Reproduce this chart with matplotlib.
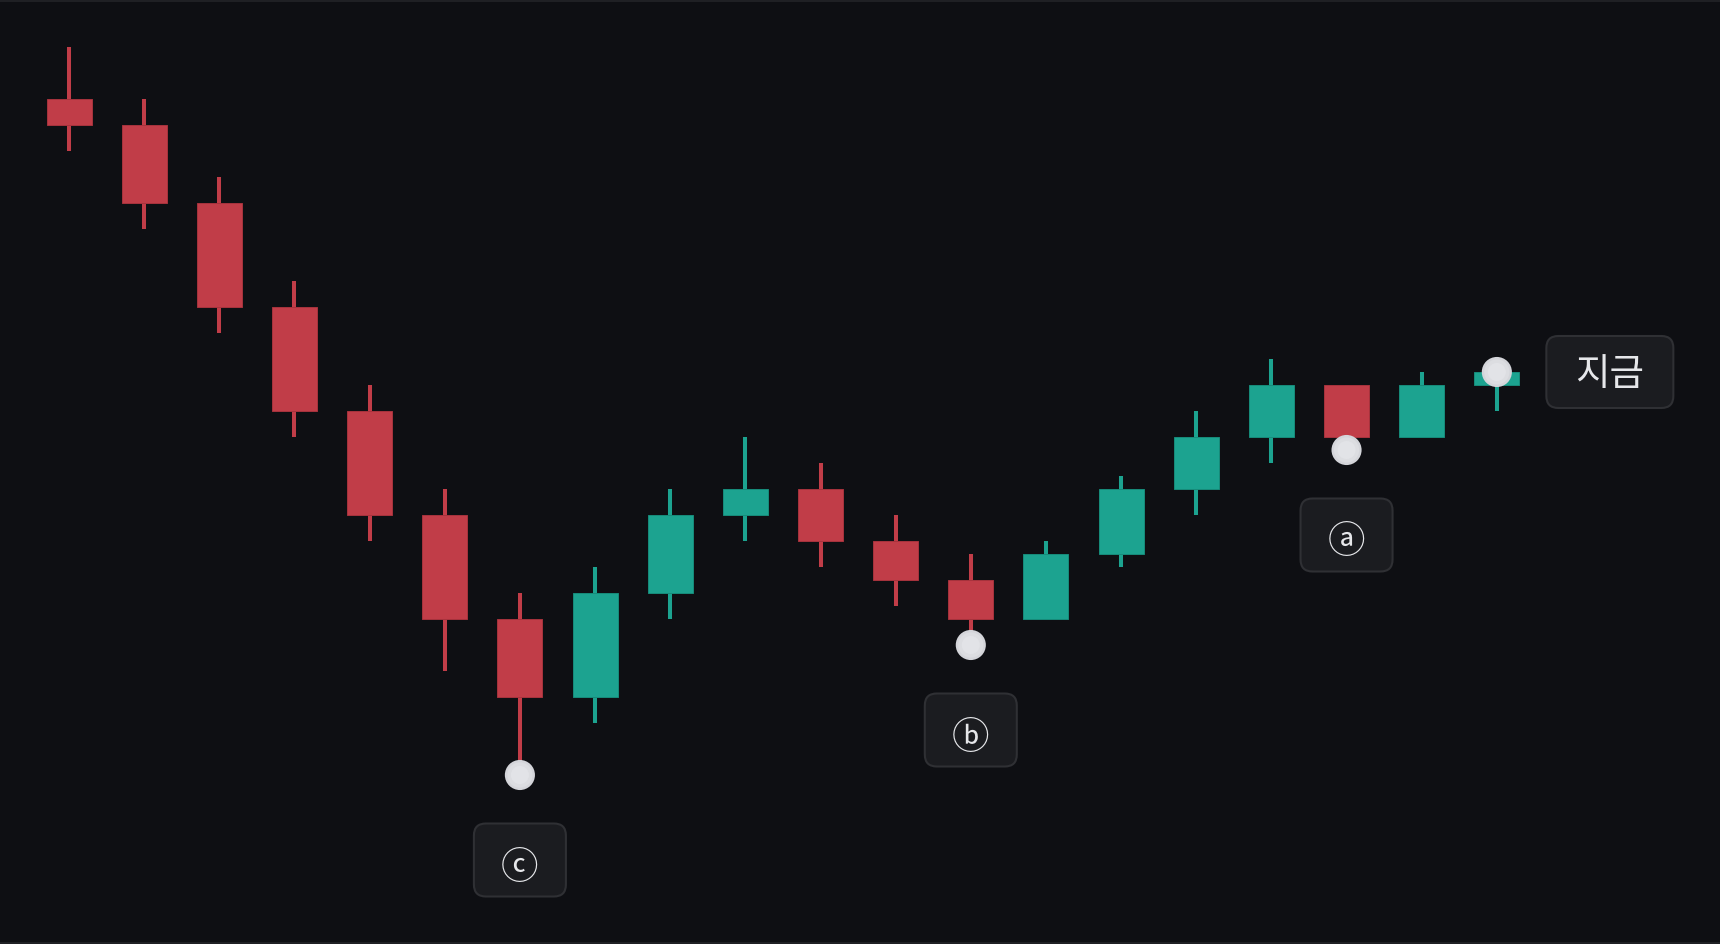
import numpy as np
import matplotlib
matplotlib.use("Agg")
import matplotlib.pyplot as plt
from matplotlib.patches import Rectangle, FancyBboxPatch

plt.rcParams['font.family'] = ['Noto Sans CJK KR', 'DejaVu Sans']

# candle data (price units, one unit = one grid step)
opens  = [26, 25, 22, 18, 14, 10, 6, 3, 7, 10, 11, 9, 7.5, 6, 8.5, 11, 13, 15, 13, 15]
highs  = [28, 26, 23, 19, 15, 11, 7, 8, 11, 13, 12, 10, 8.5, 9, 11.5, 14, 16, 15, 15.5, 15.5]
lows   = [24, 21, 17, 13, 9, 4, 0, 2, 6, 9, 8, 6.5, 5, 6, 8, 10, 12, 12.5, 13, 14]
closes = [25, 22, 18, 14, 10, 6, 3, 7, 10, 11, 9, 7.5, 6, 8.5, 11, 13, 15, 13, 15, 15.5]

# marked points: candle index, price, label
mark_idx = [6, 12, 17, 19]
mark_price = [0, 5, 12.5, 15.5]
mark_labels = ['ⓒ', 'ⓑ', 'ⓐ', '지금']

bg = '#0e0f13'
red = '#c13d48'
green = '#1ca390'
red_edge = '#a8333d'
green_edge = '#178c7b'

W, H = 1720, 944
fig = plt.figure(figsize=(W / 100, H / 100), dpi=100, facecolor=bg)
ax = fig.add_axes([0, 0, 1, 1])
ax.set_facecolor(bg)

# ~75 px per candle, first centre at x=69; 26 px per price unit, price 0 at y=775 from top
step = 75.15
ax.set_xlim(-69 / step, (W - 69) / step)
ax.set_ylim((775 - H) / 26, 775 / 26)
ax.axis('off')

body_w = 45 / step
for i, (o, h, l, c) in enumerate(zip(opens, highs, lows, closes)):
    up = c >= o
    col = green if up else red
    ec = green_edge if up else red_edge
    ax.plot([i, i], [l, h], color=col, lw=2.9, solid_capstyle='butt', zorder=2)
    ax.add_patch(Rectangle((i - body_w / 2, min(o, c)), body_w, abs(c - o),
                           facecolor=col, edgecolor=ec, lw=0.7, zorder=3))

# dots
ax.scatter(mark_idx, mark_price, s=470, color='#d4d5da', edgecolors='none', zorder=5)
ax.scatter(mark_idx, mark_price, s=330, color='#dcdde1', edgecolors='none', zorder=6)
ax.scatter(mark_idx, mark_price, s=170, color='#e2e3e7', edgecolors='none', zorder=7)

fig.canvas.draw()
for k, (i, p, lab) in enumerate(zip(mark_idx, mark_price, mark_labels)):
    px, py = ax.transData.transform((i, p))
    if lab == '지금':
        cx, cy, bw, bh = px + 113, py, 127, 72
        tdy, fs = -3, 27
    else:
        cx, cy, bw, bh = px, py - 85, 92, 73
        tdy, fs = -8, 27
    r = 12
    box = FancyBboxPatch((cx - bw / 2 + r, cy - bh / 2 + r), bw - 2 * r, bh - 2 * r,
                         boxstyle='round,pad=%d,rounding_size=%d' % (r, r),
                         transform=None, facecolor='#1b1c20', edgecolor='#2f3034',
                         lw=1.5, zorder=8)
    fig.patches.append(box)
    fig.text(cx / W, (cy + tdy) / H, lab, ha='center', va='center', fontsize=fs,
             color='#e6e7ea', zorder=9)

# thin frame strips at top and bottom
fig.patches.append(Rectangle((0, 1 - 2 / H), 1, 2 / H, transform=fig.transFigure,
                             facecolor='#1f2024', edgecolor='none', zorder=10))
fig.patches.append(Rectangle((0, 0), 1, 2 / H, transform=fig.transFigure,
                             facecolor='#1f2024', edgecolor='none', zorder=10))

fig.savefig('out.png', dpi=100, facecolor=bg)
